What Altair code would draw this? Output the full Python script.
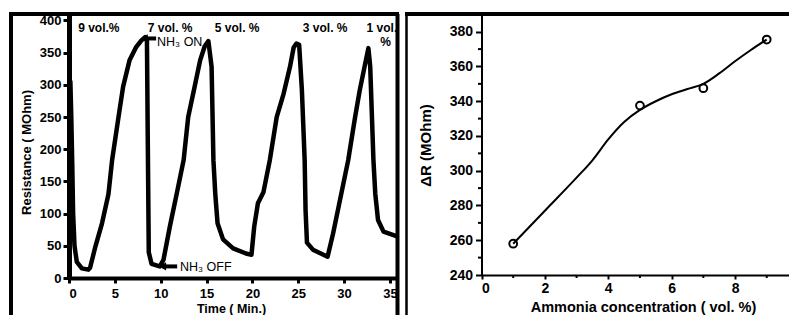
import altair as alt
import pandas as pd

# ---------------- data ----------------
time_min = [0.15, 0.25, 0.35, 0.45, 0.6, 0.85, 1.4, 2.1, 2.3,
            2.9, 3.6, 4.3, 4.7, 5.4, 5.9, 6.6, 7.3, 7.9, 8.3, 8.5,
            8.6, 8.7, 9.0, 9.9,
            10.3, 11.0, 11.75, 12.5, 13.0, 13.7, 14.3, 14.8, 15.2,
            15.55, 15.75, 15.95, 16.2, 16.8, 17.9, 19.3, 19.9,
            20.2, 20.6, 21.2, 21.9, 22.65, 23.4, 24.1, 24.5, 24.8, 25.1,
            25.4, 25.7, 25.8, 25.95, 26.6, 28.2,
            28.8, 29.55, 30.45, 31.2, 31.7, 32.3, 32.65,
            32.85, 33.2, 33.4, 33.7, 34.3, 35.7]
resistance = [305, 250, 180, 100, 50, 25, 15, 13, 16,
              50, 85, 130, 183, 250, 297, 338, 358, 369, 374, 368,
              200, 40, 22, 18,
              28, 80, 131, 183, 250, 297, 338, 360, 368,
              328, 183, 131, 85, 60, 46, 38, 36,
              80, 116, 133, 183, 250, 286, 328, 358, 364, 362,
              291, 183, 105, 55, 44, 33,
              69, 121, 183, 250, 291, 333, 357,
              328, 183, 131, 90, 72, 65]

conc_labels = ["9 vol.%", "7 vol. %", "5 vol. %", "3 vol. %", "1 vol.", "%"]
conc_label_t = [1.0, 8.6, 15.9, 25.5, 32.45, 33.95]
conc_label_R = [389, 389, 389, 389, 389, 366]

nh3_labels = ["NH\u2083 ON", "NH\u2083 OFF"]
nh3_label_t = [9.6, 12.1]
nh3_label_R = [367, 17]
arrow_id = ["on", "on", "off", "off"]
arrow_t = [8.2, 9.5, 10.2, 11.8]
arrow_R = [372, 372, 18, 18]
arrow_tip_t = [8.2, 10.2]
arrow_tip_R = [372, 18]

ammonia = [1, 5, 7, 9]
delta_R = [258, 337.5, 347.5, 375.5]
fit_conc = [1, 2, 3, 3.5, 4, 4.5, 5, 5.5, 6, 6.5, 7, 7.5, 8, 8.5, 9]
fit_dR = [258, 277, 296, 306, 318, 328, 335, 340, 344, 347, 350, 356, 363, 369.5, 375.5]

left_ticks_x = [0, 5, 10, 15, 20, 25, 30, 35]
left_ticks_y = [0, 50, 100, 150, 200, 250, 300, 350, 400]
right_ticks_x = [0, 2, 4, 6, 8, 10]
right_ticks_y = [240, 260, 280, 300, 320, 340, 360, 380]
right_minor_x = [1, 3, 5, 7, 9]
right_minor_y = [250, 270, 290, 310, 330, 350, 370, 390]

FONT = "Liberation Sans"
W, H = 720, 264            # whole drawing width, left panel height
LW = 328                   # left panel width
RX0, RH = 412.5, 261       # right panel left offset and height

def ax(values, title, size, **kw):
    return alt.Axis(values=values, title=title, grid=False, labelOverlap=False,
                    format="d", tickCount=len(values),
                    domainColor="black", tickColor="black",
                    labelColor="black", titleColor="black",
                    labelFont=FONT, titleFont=FONT,
                    labelFontWeight="bold", titleFontWeight="bold",
                    labelFontSize=size, titleBaseline="middle", titleAlign="center",
                    **kw)

# ---------------- left panel ----------------
xs_l = alt.Scale(domain=[0, 35.77], range=[0, LW], nice=False, zero=False)
ys_l = alt.Scale(domain=[0, 410], range=[H, 0], nice=False, zero=False)
AX_LX = ax(left_ticks_x, "Time ( Min.)", 13, orient="bottom", domainWidth=4,
           tickWidth=3, tickSize=5, labelPadding=4, titleFontSize=12.5,
           titleX=162, titleY=30.5)
AX_LY = ax(left_ticks_y, "Resistance ( MOhm)", 13, orient="left", domainWidth=5,
           tickWidth=3, tickSize=6, labelPadding=2, titleFontSize=13,
           titleX=-43, titleY=138, titleAngle=270)
XL = alt.X("t:Q", scale=xs_l, axis=AX_LX)
YL = alt.Y("R:Q", scale=ys_l, axis=AX_LY)

left_df = pd.DataFrame({"t": time_min, "R": resistance})
curve = alt.Chart(left_df).transform_window(idx="row_number()").mark_line(
    color="black", strokeWidth=4.5, strokeJoin="round", strokeCap="round").encode(
    x=XL, y=YL, order=alt.Order("idx:Q"))

ann = alt.Chart(pd.DataFrame({"txt": conc_labels, "t": conc_label_t, "R": conc_label_R})).mark_text(
    align="left", baseline="middle", font=FONT, fontWeight="bold", fontSize=12, color="black"
).encode(x=XL, y=YL, text="txt:N")

nh3 = alt.Chart(pd.DataFrame({"txt": nh3_labels, "t": nh3_label_t, "R": nh3_label_R})).mark_text(
    align="left", baseline="middle", font=FONT, fontSize=12.5, color="black"
).encode(x=XL, y=YL, text="txt:N")

arrows = alt.Chart(pd.DataFrame({"id": arrow_id, "t": arrow_t, "R": arrow_R})).mark_line(
    color="black", strokeWidth=4
).encode(x=XL, y=YL, detail="id:N")

tips = alt.Chart(pd.DataFrame({"t": arrow_tip_t, "R": arrow_tip_R})).mark_point(
    shape="triangle-left", filled=True, color="black", size=70, opacity=1
).encode(x=XL, y=YL)

left = alt.layer(curve, ann, nh3, arrows, tips)

# ---------------- right panel ----------------
xs_r = alt.Scale(domain=[0, 10.35], range=[RX0, RX0 + 328], nice=False, zero=False)
ys_r = alt.Scale(domain=[240, 390.2], range=[RH, 0], nice=False, zero=False)
AX_RX = ax(right_ticks_x, "Ammonia concentration ( vol. %)", 14, orient="bottom",
           offset=RH - H, domainWidth=2, tickWidth=2, tickSize=4,
           labelPadding=2, titleFontSize=14.5, titleX=574, titleY=32)
AX_RY = ax(right_ticks_y, "\u0394R (MOhm)", 14, orient="left", offset=-RX0,
           domainWidth=2, tickWidth=2, tickSize=6, labelPadding=3,
           titleFontSize=15, titleX=-56, titleY=131, titleAngle=270)
XR = alt.X("c:Q", scale=xs_r, axis=AX_RX)
YR = alt.Y("d:Q", scale=ys_r, axis=AX_RY)

fit = alt.Chart(pd.DataFrame({"c": fit_conc, "d": fit_dR})).mark_line(
    color="black", strokeWidth=2, interpolate="monotone"
).encode(x=XR, y=YR)

pts = alt.Chart(pd.DataFrame({"c": ammonia, "d": delta_R})).mark_point(
    shape="circle", filled=False, color="black", size=60, strokeWidth=2, opacity=1
).encode(x=XR, y=YR)

minor_x = alt.Chart(pd.DataFrame({"c": right_minor_x})).mark_rule(
    color="black", strokeWidth=2).encode(x=XR, y=alt.value(RH), y2=alt.value(RH + 3))
minor_y = alt.Chart(pd.DataFrame({"d": right_minor_y})).mark_rule(
    color="black", strokeWidth=2).encode(y=YR, x=alt.value(RX0 - 3.5), x2=alt.value(RX0))

right = alt.layer(fit, pts, minor_x, minor_y)

# ---------------- panel frames ----------------
def rule(sw, **enc):
    return alt.Chart().mark_rule(color="black", strokeWidth=sw).encode(**enc)

frames = [
    rule(4, x=alt.value(-58), y=alt.value(0), y2=alt.value(320)),        # left frame, left side
    rule(4, x=alt.value(-60), x2=alt.value(LW + 2), y=alt.value(0)),     # left frame, top
    rule(4, x=alt.value(LW + 0.5), y=alt.value(0), y2=alt.value(320)),   # left frame, right side
    rule(2.5, x=alt.value(337.5), y=alt.value(0), y2=alt.value(320)),    # right frame, left side
    rule(4, x=alt.value(336), x2=alt.value(W + 20), y=alt.value(0)),     # right frame, top
]

chart = alt.layer(left, right, *frames).resolve_scale(
    x="independent", y="independent"
).resolve_axis(x="independent", y="independent").properties(
    width=W, height=H,
    autosize=alt.AutoSizeParams(type="none"),
    padding={"left": 61, "top": 6, "right": 0, "bottom": 37},
    background="white",
).configure_view(stroke=None)

chart.save("out.html", embed_options={"renderer": "svg", "actions": False})
